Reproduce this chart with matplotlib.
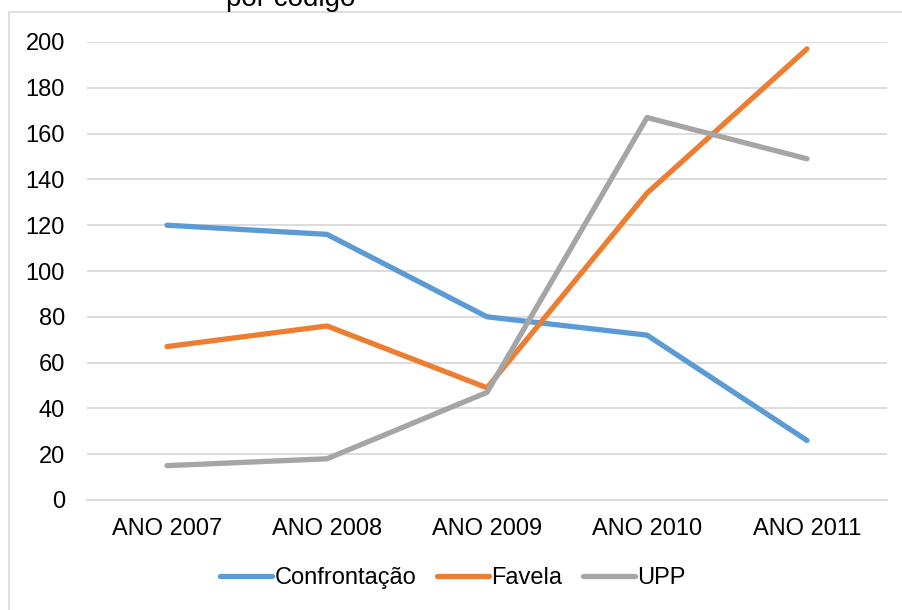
import matplotlib
matplotlib.use("Agg")
import matplotlib.pyplot as plt
from matplotlib.patches import Rectangle

categories = ["ANO 2007", "ANO 2008", "ANO 2009", "ANO 2010", "ANO 2011"]
confrontacao = [120, 116, 80, 72, 26]
favela = [67, 76, 49, 134, 197]
upp = [15, 18, 47, 167, 149]
series_names = ["Confrontação", "Favela", "UPP"]
colors = ["#5B9BD5", "#ED7D31", "#A5A5A5"]
yticks = [0, 20, 40, 60, 80, 100, 120, 140, 160, 180, 200]

plt.rcParams['font.family'] = ['Liberation Sans', 'DejaVu Sans']

W, H = 902, 610
fig = plt.figure(figsize=(W/100, H/100), dpi=100)

# outer chart frame (partially cropped)
fig.patches.append(Rectangle((9/W, -0.1), 1.0, (H-12)/H + 0.1, transform=fig.transFigure,
                             fill=False, edgecolor="#D9D9D9", linewidth=1.2))

# cropped title (as in the reference, only its lower part is visible)
fig.text(291/W, 1 - 6/H, "por código", ha="center", va="baseline", fontsize=20, color="black")

ax = fig.add_axes([87/W, (H-500)/H, 800/W, 458/H])
x = list(range(len(categories)))
for vals, name, c in zip([confrontacao, favela, upp], series_names, colors):
    ax.plot(x, vals, color=c, linewidth=3.8, label=name, solid_capstyle="round", solid_joinstyle="round")

ax.set_xlim(-0.5, len(categories) - 0.5)
ax.set_ylim(0, 200)
ax.set_yticks(yticks)
ax.set_xticks(x)
ax.set_xticklabels(categories)
ax.tick_params(axis="both", length=0, labelsize=17, colors="black")
ax.tick_params(axis="y", pad=16)
ax.tick_params(axis="x", pad=13)
ax.grid(axis="y", color="#D9D9D9", linewidth=1.3)
ax.set_axisbelow(True)
for s in ["top", "right", "left"]:
    ax.spines[s].set_visible(False)
ax.spines["bottom"].set_color("#D9D9D9")
ax.spines["bottom"].set_linewidth(1.3)

leg = fig.legend(loc="center", bbox_to_anchor=(453/W, 1 - 578/H), ncol=3, frameon=False,
                 fontsize=17, handlelength=2.2, handletextpad=0.12, columnspacing=0.85)

fig.savefig("out.png", dpi=100)
